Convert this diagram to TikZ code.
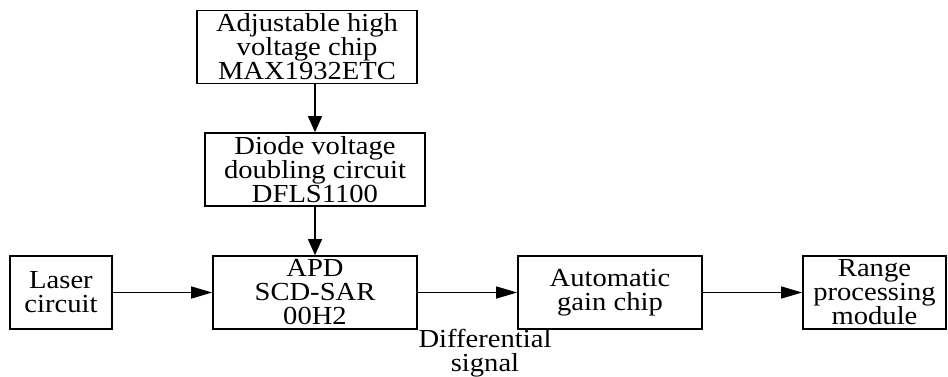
\documentclass[tikz,border=0pt]{standalone}
\usepackage{fontspec}
\setmainfont{Liberation Serif}[FakeStretch=1.1]
\usetikzlibrary{arrows.meta}

\tikzset{
  blk/.style={draw, line width=0.85pt, inner sep=0pt, align=center,
    minimum height=36.5pt, font=\fontsize{13}{12}\selectfont},
  arr/.style={line width=0.65pt, -{Triangle[length=10.5pt,width=6pt]}},
  varr/.style={line width=0.65pt, -{Triangle[length=8pt,width=7pt]}},
}

\begin{document}
\begin{tikzpicture}[x=0.5pt,y=-0.5pt]
\useasboundingbox (0,0) rectangle (948,376);

\node[blk, minimum width=110pt] (hv) at (307,47) {Adjustable high\\voltage chip\\MAX1932ETC};
\node[blk, minimum width=110pt] (dbl) at (315,169.5) {Diode voltage\\doubling circuit\\DFLS1100};
\node[blk, minimum width=51pt] (laser) at (61,292.5) {Laser\\circuit};
\node[blk, minimum width=102pt] (apd) at (315,292.5) {APD\\SCD-SAR\\00H2};
\node[blk, minimum width=92pt] (agc) at (610,292.5) {Automatic\\gain chip};
\node[blk, minimum width=71.5pt] (range) at (874.5,292.5) {Range\\processing\\module};

\draw[varr] (hv.south -| dbl.north) -- (dbl.north);
\draw[varr] (dbl) -- (apd);
\draw[arr] (laser) -- (apd);
\draw[arr] (apd) -- (agc);
\draw[arr] (agc) -- (range);

\coordinate (dl) at (485,353);
\node[align=center, inner sep=0pt, font=\fontsize{13}{12}\selectfont] (diff) at (dl) {Differential\\signal};

\end{tikzpicture}
\end{document}
